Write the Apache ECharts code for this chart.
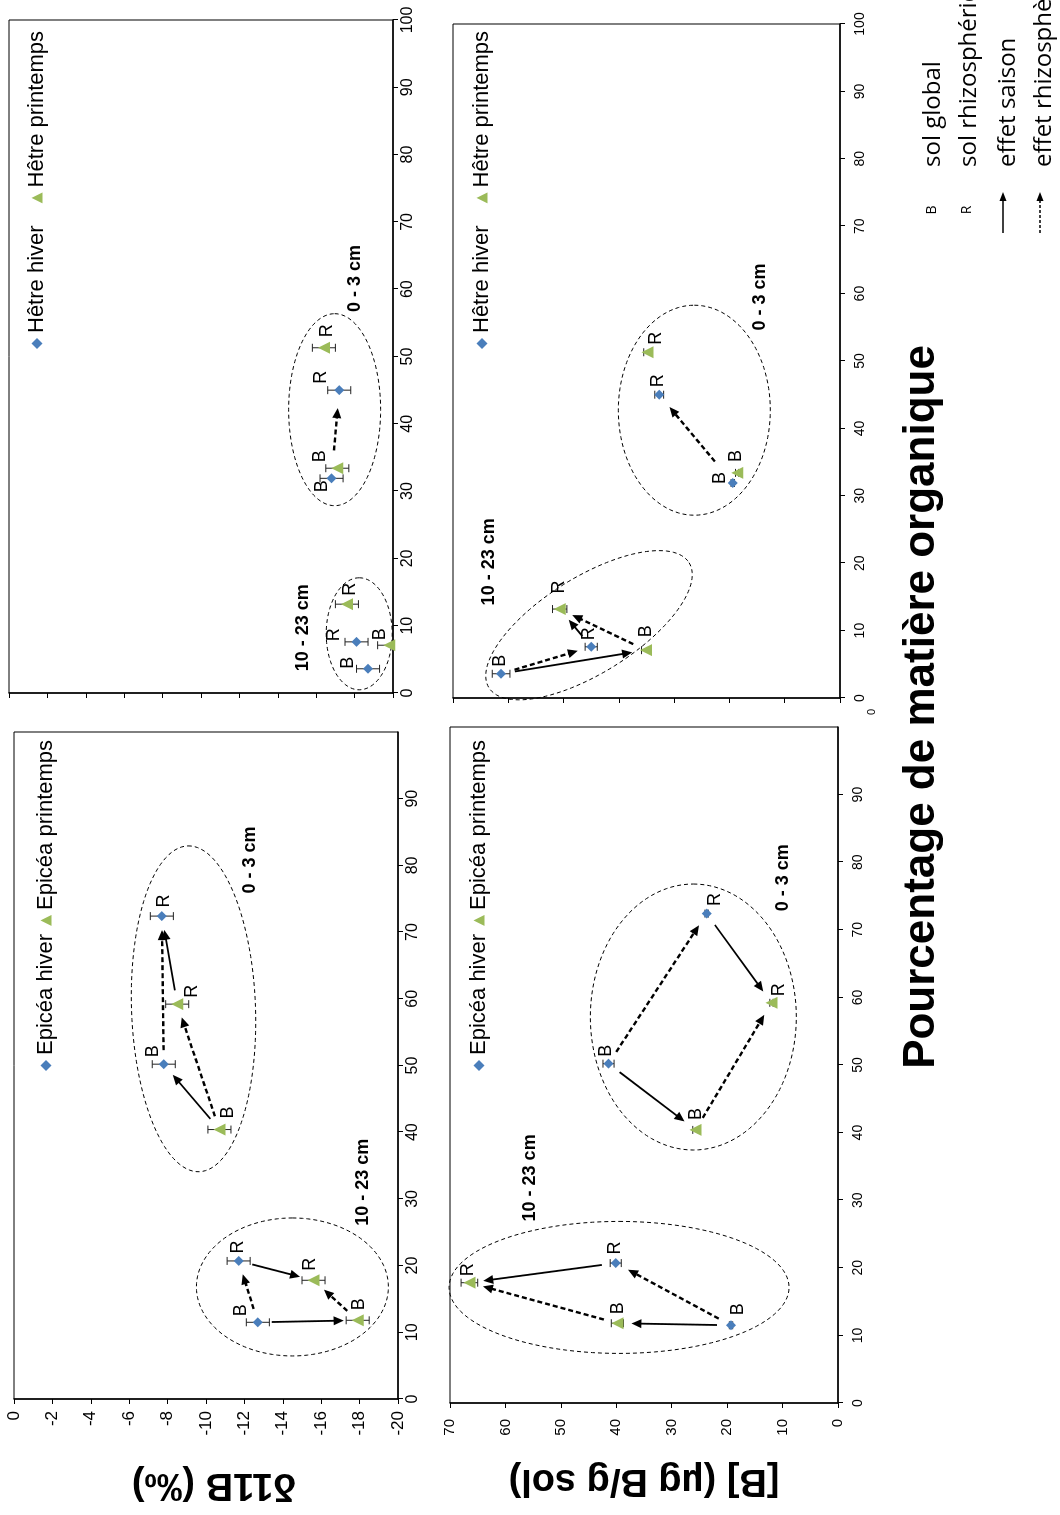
<!DOCTYPE html>
<html>
<head>
<meta charset="utf-8">
<title>δ11B et [B] en fonction de la matière organique</title>
<script src="https://cdn.jsdelivr.net/npm/echarts/dist/echarts.min.js"></script>
<style>
html, body { margin: 0; padding: 0; background: #fff; width: 1060px; height: 1515px; overflow: hidden; }
/* la figure est dessinée à plat puis tournée d'un quart de tour */
#main { position: absolute; left: 0; top: 0; width: 1515px; height: 1060px;
        transform-origin: 0 0; transform: translate(0, 1515px) rotate(-90deg); }
</style>
</head>
<body>
<div id="main"></div>
<script>
var fontFamily = "'Liberation Sans', Arial, sans-serif";

// ordre des points : B 10-23 cm, R 10-23 cm, B 0-3 cm, R 0-3 cm
var pointTags = ['B', 'R', 'B', 'R'];

// pourcentage de matière organique
var epiceaHiverMO = [11.5, 20.7, 50.2, 72.4];
var epiceaPrintempsMO = [11.8, 17.8, 40.4, 59.2];
var hetreHiverMO = [3.6, 7.6, 31.9, 45.0];
var hetrePrintempsMO = [7.1, 13.2, 33.4, 51.3];

// δ11B (‰)
var epiceaHiverD11B = [-12.7, -11.7, -7.8, -7.7];
var epiceaPrintempsD11B = [-17.9, -15.6, -10.7, -8.5];
var hetreHiverD11B = [-18.7, -18.1, -16.8, -17.2];
var hetrePrintempsD11B = [-19.8, -17.6, -17.1, -16.4];
var epiceaHiverD11BErr = [0.6, 0.6, 0.6, 0.6];
var epiceaPrintempsD11BErr = [0.6, 0.6, 0.6, 0.6];
var hetreHiverD11BErr = [0.6, 0.6, 0.6, 0.6];
var hetrePrintempsD11BErr = [0.6, 0.6, 0.6, 0.6];

// [B] (µg B/g sol)
var epiceaHiverB = [19.3, 40.1, 41.4, 23.7];
var epiceaPrintempsB = [39.8, 66.5, 25.7, 12.0];
var hetreHiverB = [61.3, 45.0, 19.4, 32.7];
var hetrePrintempsB = [35.1, 50.7, 18.6, 34.8];
var epiceaHiverBErr = [0.3, 1.0, 1.0, 0.3];
var epiceaPrintempsBErr = [1.1, 1.5, 0.5, 0.3];
var hetreHiverBErr = [1.6, 1.1, 0.3, 0.8];
var hetrePrintempsBErr = [0.8, 1.3, 0.3, 0.7];

// flèches : s = effet saison (pleine), d = effet rhizosphère (pointillés) ; h = hiver, p = printemps
var epiceaD11BArrows = [['h0', 'p0', 's'], ['h1', 'p1', 's'], ['h0', 'h1', 'd'], ['p0', 'p1', 'd'],
                        ['p2', 'h2', 's'], ['p3', 'h3', 's'], ['h2', 'h3', 'd'], ['p2', 'p3', 'd']];
var hetreD11BArrows = [['h2', 'h3', 'd', 28, 18]];
var epiceaBArrows = [['h0', 'p0', 's'], ['h1', 'p1', 's'], ['h0', 'h1', 'd'], ['p0', 'p1', 'd'],
                     ['h2', 'p2', 's'], ['h3', 'p3', 's'], ['h2', 'h3', 'd'], ['p2', 'p3', 'd']];
var hetreBArrows = [['h0', 'p0', 's'], ['h1', 'p1', 's'], ['h0', 'h1', 'd'], ['p0', 'p1', 'd'],
                    ['h2', 'h3', 'd', 28, 16]];

// placement des étiquettes B / R (px)
var epiceaHiverD11BLab = [[12, -17], [14, -1], [13, -11], [15, 2]];
var epiceaPrintempsD11BLab = [[16, 1], [16, -3], [17, 9], [13, 15]];
var hetreHiverD11BLab = [[6, -20], [7, -22], [-8, -10], [13, -18]];
var hetrePrintempsD11BLab = [[11, -9], [15, 3], [12, -17], [17, 3]];
var epiceaHiverBLab = [[16, 7], [15, -1], [13, -2], [14, 8]];
var epiceaPrintempsBLab = [[15, 1], [13, -1], [16, 0], [13, 8]];
var hetreHiverBLab = [[13, -1], [13, -2], [5, -13], [14, -1]];
var hetrePrintempsBLab = [[19, 0], [22, -1], [17, -1], [14, 8]];

// ellipses de regroupement : centre (MO, y), rayons px, inclinaison en degrés
var epiceaD11BEllipses = [[16.8, -14.5, 69, 96, 0], [58.5, -9.35, 163, 62, -2]];
var hetreD11BEllipses = [[8.8, -18.24, 56, 33, 0], [42.1, -16.96, 96, 46, 0]];
var epiceaBEllipses = [[17.1, 39.5, 66, 170, 0], [57.1, 26.1, 133, 103, 0]];
var hetreBEllipses = [[10.8, 45.4, 118, 48, 58], [42.7, 26.35, 105, 76, 0]];

// profondeurs
var epiceaD11BDepths = [[32.5, -18.2, '10 - 23 cm'], [80.8, -12.3, '0 - 3 cm']];
var hetreD11BDepths = [[9.7, -15.3, '10 - 23 cm'], [61.6, -18.0, '0 - 3 cm']];
var epiceaBDepths = [[33.3, 55.6, '10 - 23 cm'], [77.7, 10.0, '0 - 3 cm']];
var hetreBDepths = [[20.2, 63.5, '10 - 23 cm'], [59.5, 14.4, '0 - 3 cm']];

var blue = '#4A7EBB', green = '#9BBB59';

function zip(a, b) {
    return a.map(function (v, i) { return [v, b[i]]; });
}

function pointSeries(name, gi, mo, vals, offsets, symbol, color, size) {
    return {
        name: name, type: 'scatter', xAxisIndex: gi, yAxisIndex: gi, z: 5,
        symbol: symbol, symbolSize: size,
        itemStyle: { color: color, opacity: 1 },
        label: { show: true, position: 'inside', formatter: '{b}', color: '#000', fontSize: 18, fontFamily: fontFamily },
        emphasis: { disabled: true },
        data: mo.map(function (m, i) {
            return { name: pointTags[i], value: [m, vals[i]], label: { offset: offsets[i] } };
        })
    };
}

function errorSeries(gi, mo, vals, errs) {
    return {
        type: 'custom', xAxisIndex: gi, yAxisIndex: gi, z: 4, silent: true, clip: true,
        encode: { x: 0, y: 1 },
        data: mo.map(function (m, i) { return [m, vals[i], errs[i]]; }),
        renderItem: function (params, api) {
            var x = api.value(0), y = api.value(1), e = api.value(2);
            var lo = api.coord([x, y - e]), hi = api.coord([x, y + e]);
            var st = { stroke: '#222', lineWidth: 1 };
            return {
                type: 'group', children: [
                    { type: 'line', shape: { x1: lo[0], y1: lo[1], x2: hi[0], y2: hi[1] }, style: st },
                    { type: 'line', shape: { x1: lo[0] - 4, y1: lo[1], x2: lo[0] + 4, y2: lo[1] }, style: st },
                    { type: 'line', shape: { x1: hi[0] - 4, y1: hi[1], x2: hi[0] + 4, y2: hi[1] }, style: st }
                ]
            };
        }
    };
}

function arrowSeries(gi, pts, defs) {
    var data = defs.map(function (a) {
        var s = pts[a[0][0]][+a[0][1]], t = pts[a[1][0]][+a[1][1]];
        return [s[0], s[1], t[0], t[1], a[2] === 'd' ? 1 : 0, a[3] || 14, a[4] || 14];
    });
    return {
        type: 'custom', xAxisIndex: gi, yAxisIndex: gi, z: 3, silent: true,
        encode: { x: [0, 2], y: [1, 3] },
        data: data,
        renderItem: function (params, api) {
            var a = api.coord([api.value(0), api.value(1)]);
            var b = api.coord([api.value(2), api.value(3)]);
            var dashed = api.value(4) === 1;
            var dx = b[0] - a[0], dy = b[1] - a[1];
            var len = Math.sqrt(dx * dx + dy * dy), ux = dx / len, uy = dy / len;
            var sx = a[0] + ux * api.value(5), sy = a[1] + uy * api.value(5);
            var ex = b[0] - ux * api.value(6), ey = b[1] - uy * api.value(6);
            var hl = 10, hw = 4.5;
            var bx = ex - ux * hl, by = ey - uy * hl;
            return {
                type: 'group', children: [
                    { type: 'line', shape: { x1: sx, y1: sy, x2: bx + ux, y2: by + uy },
                      style: { stroke: '#000', lineWidth: dashed ? 2.4 : 1.8, lineDash: dashed ? [5, 3] : null } },
                    { type: 'polygon', shape: { points: [[ex, ey], [bx - uy * hw, by + ux * hw], [bx + uy * hw, by - ux * hw]] },
                      style: { fill: '#000' } }
                ]
            };
        }
    };
}

function ellipseSeries(gi, defs) {
    return {
        type: 'custom', xAxisIndex: gi, yAxisIndex: gi, z: 1, silent: true,
        encode: { x: 0, y: 1 },
        data: defs.map(function (e) { return [e[0], e[1]]; }),
        renderItem: function (params, api) {
            var e = defs[params.dataIndex];
            var c = api.coord([api.value(0), api.value(1)]);
            var rot = e[4] * Math.PI / 180, pts = [];
            for (var k = 0; k <= 120; k++) {
                var t = k / 120 * 2 * Math.PI;
                var x = e[2] * Math.cos(t), y = e[3] * Math.sin(t);
                pts.push([c[0] + x * Math.cos(rot) - y * Math.sin(rot), c[1] + x * Math.sin(rot) + y * Math.cos(rot)]);
            }
            return { type: 'polyline', shape: { points: pts },
                     style: { fill: null, stroke: '#000', lineWidth: 1, lineDash: [4, 3] } };
        }
    };
}

function depthSeries(gi, defs) {
    return {
        type: 'custom', xAxisIndex: gi, yAxisIndex: gi, z: 6, silent: true,
        encode: { x: 0, y: 1 },
        data: defs.map(function (d) { return [d[0], d[1]]; }),
        renderItem: function (params, api) {
            var c = api.coord([api.value(0), api.value(1)]);
            return { type: 'text', x: c[0], y: c[1],
                     style: { text: defs[params.dataIndex][2], fontSize: 18, fontWeight: 'bold', fontFamily: fontFamily,
                              fill: '#000', align: 'center', verticalAlign: 'middle' } };
        }
    };
}

var panels = [
    { sp: 'Epicéa', hMO: epiceaHiverMO, pMO: epiceaPrintempsMO, hV: epiceaHiverD11B, pV: epiceaPrintempsD11B,
      hE: epiceaHiverD11BErr, pE: epiceaPrintempsD11BErr, hL: epiceaHiverD11BLab, pL: epiceaPrintempsD11BLab,
      arrows: epiceaD11BArrows, ellipses: epiceaD11BEllipses, depths: epiceaD11BDepths },
    { sp: 'Hêtre', hMO: hetreHiverMO, pMO: hetrePrintempsMO, hV: hetreHiverD11B, pV: hetrePrintempsD11B,
      hE: hetreHiverD11BErr, pE: hetrePrintempsD11BErr, hL: hetreHiverD11BLab, pL: hetrePrintempsD11BLab,
      arrows: hetreD11BArrows, ellipses: hetreD11BEllipses, depths: hetreD11BDepths },
    { sp: 'Epicéa', hMO: epiceaHiverMO, pMO: epiceaPrintempsMO, hV: epiceaHiverB, pV: epiceaPrintempsB,
      hE: epiceaHiverBErr, pE: epiceaPrintempsBErr, hL: epiceaHiverBLab, pL: epiceaPrintempsBLab,
      arrows: epiceaBArrows, ellipses: epiceaBEllipses, depths: epiceaBDepths },
    { sp: 'Hêtre', hMO: hetreHiverMO, pMO: hetrePrintempsMO, hV: hetreHiverB, pV: hetrePrintempsB,
      hE: hetreHiverBErr, pE: hetrePrintempsBErr, hL: hetreHiverBLab, pL: hetrePrintempsBLab,
      arrows: hetreBArrows, ellipses: hetreBEllipses, depths: hetreBDepths }
];

var series = [];
panels.forEach(function (p, gi) {
    var pts = { h: zip(p.hMO, p.hV), p: zip(p.pMO, p.pV) };
    series.push(ellipseSeries(gi, p.ellipses));
    series.push(arrowSeries(gi, pts, p.arrows));
    series.push(errorSeries(gi, p.hMO, p.hV, p.hE));
    series.push(errorSeries(gi, p.pMO, p.pV, p.pE));
    series.push(pointSeries(p.sp + ' hiver', gi, p.hMO, p.hV, p.hL, 'diamond', blue, 10));
    series.push(pointSeries(p.sp + ' printemps', gi, p.pMO, p.pV, p.pL, 'triangle', green, 12));
    series.push(depthSeries(gi, p.depths));
});

function omAxis(gi, fontSize, showMax, margin) {
    return {
        type: 'value', gridIndex: gi, min: 0, max: 100, interval: 10,
        axisLine: { onZero: false, lineStyle: { color: '#000', width: 1.5 } },
        axisTick: { length: 5, lineStyle: { color: '#000' } },
        splitLine: { show: false },
        axisLabel: { color: '#000', fontSize: fontSize, fontFamily: fontFamily, margin: margin, showMaxLabel: showMax }
    };
}

function valAxis(gi, min, max, step, showLabel, fontSize, margin) {
    return {
        type: 'value', gridIndex: gi, min: min, max: max, interval: step,
        axisLine: { onZero: false, lineStyle: { color: '#000', width: 1.5 } },
        axisTick: { length: 5, lineStyle: { color: '#000' } },
        splitLine: { show: false },
        axisLabel: { show: showLabel, color: '#000', fontSize: fontSize, fontFamily: fontFamily, margin: margin }
    };
}

function panelLegend(sp, left, top, gap) {
    return {
        data: [sp + ' hiver', sp + ' printemps'], left: left, top: top, itemGap: gap,
        padding: 0, itemWidth: 11, itemHeight: 11, selectedMode: false,
        textStyle: { color: '#000', fontSize: 22, fontFamily: fontFamily }
    };
}

function legendText(x, y, text) {
    return { type: 'text', x: x, y: y,
             style: { text: text, fontSize: 24, fontFamily: "'Open Sans', sans-serif", fill: '#000',
                      align: 'left', verticalAlign: 'middle' } };
}

var gridBox = { show: true, borderColor: '#000', borderWidth: 1, backgroundColor: '#fff' };

var myChart = echarts.init(document.getElementById('main'), null, { width: 1515, height: 1060 });
var option = {
    animation: false,
    backgroundColor: '#fff',
    textStyle: { fontFamily: fontFamily },
    grid: [
        Object.assign({ left: 116, top: 14, width: 667, height: 384 }, gridBox),
        Object.assign({ left: 822, top: 9, width: 673, height: 384 }, gridBox),
        Object.assign({ left: 112, top: 450, width: 676, height: 388 }, gridBox),
        Object.assign({ left: 817, top: 453, width: 674, height: 387 }, gridBox)
    ],
    xAxis: [
        omAxis(0, 16, false, 7),
        omAxis(1, 16, true, 7),
        omAxis(2, 14, false, 13),
        omAxis(3, 14, true, 13)
    ],
    yAxis: [
        valAxis(0, -20, 0, 2, true, 17, 12),
        valAxis(1, -20, 0, 2, false, 17, 12),
        valAxis(2, 0, 70, 10, true, 15, 16),
        valAxis(3, 0, 70, 10, false, 15, 16)
    ],
    legend: [
        panelLegend('Epicéa', 444, 35, 8),
        panelLegend('Hêtre', 1166, 26, 22),
        panelLegend('Epicéa', 444, 468, 8),
        panelLegend('Hêtre', 1166, 471, 22)
    ],
    graphic: [
        { type: 'text', x: 31, y: 214, rotation: Math.PI / 2,
          style: { text: 'δ11B (‰)', fontSize: 38, fontWeight: 'bold', fontFamily: fontFamily, fill: '#000',
                   align: 'center', verticalAlign: 'middle' } },
        { type: 'text', x: 35, y: 644, rotation: Math.PI / 2,
          style: { text: '[B] (µg B/g sol)', fontSize: 38, fontWeight: 'bold', fontFamily: fontFamily, fill: '#000',
                   align: 'center', verticalAlign: 'middle' } },
        { type: 'text', x: 808, y: 922,
          style: { text: 'Pourcentage de matière organique', fontSize: 44, fontWeight: 'bold', fontFamily: fontFamily,
                   fill: '#000', align: 'center', verticalAlign: 'middle' } },
        { type: 'text', x: 803, y: 872,
          style: { text: '0', fontSize: 11, fontFamily: fontFamily, fill: '#000', align: 'center', verticalAlign: 'middle' } },
        { type: 'text', x: 1305, y: 932,
          style: { text: 'B', fontSize: 14, fontFamily: "'Open Sans', sans-serif", fill: '#000', align: 'center', verticalAlign: 'middle' } },
        { type: 'text', x: 1305, y: 967,
          style: { text: 'R', fontSize: 14, fontFamily: "'Open Sans', sans-serif", fill: '#000', align: 'center', verticalAlign: 'middle' } },
        { type: 'line', shape: { x1: 1282, y1: 1003, x2: 1315, y2: 1003 }, style: { stroke: '#000', lineWidth: 1.5 } },
        { type: 'polygon', shape: { points: [[1323, 1003], [1314, 999.5], [1314, 1006.5]] }, style: { fill: '#000' } },
        { type: 'line', shape: { x1: 1282, y1: 1040, x2: 1315, y2: 1040 }, style: { stroke: '#000', lineWidth: 1.5, lineDash: [3, 2] } },
        { type: 'polygon', shape: { points: [[1323, 1040], [1314, 1036.5], [1314, 1043.5]] }, style: { fill: '#000' } },
        legendText(1348, 933, 'sol global'),
        legendText(1348, 969, 'sol rhizosphérique'),
        legendText(1348, 1008, 'effet saison'),
        legendText(1348, 1044, 'effet rhizosphère')
    ],
    series: series
};
myChart.setOption(option);
window.addEventListener('resize', function () {
    myChart.resize();
});
</script>
</body>
</html>
